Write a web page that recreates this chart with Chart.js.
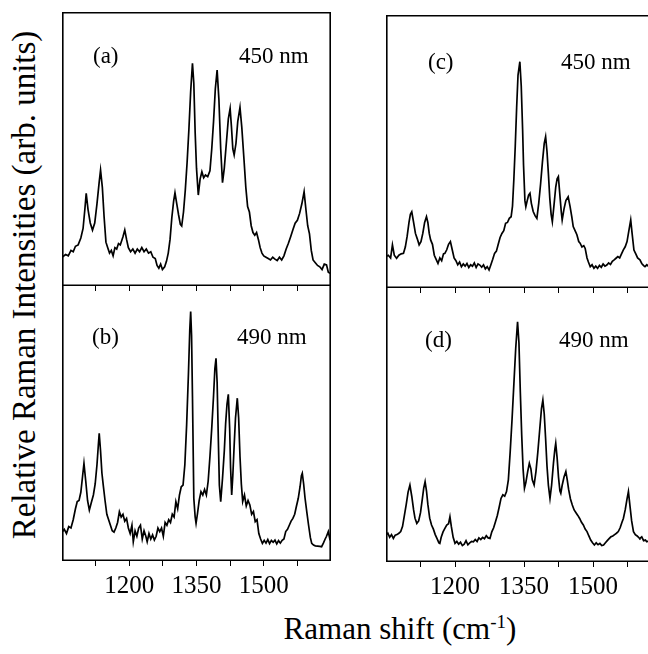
<!DOCTYPE html>
<html>
<head>
<meta charset="utf-8">
<script src="https://cdn.jsdelivr.net/npm/chart.js@4.4.1/dist/chart.umd.min.js"></script>
<style>
  body { margin:0; width:648px; height:654px; overflow:hidden; background:#fff; position:relative;
         font-family:"Liberation Serif","Times New Roman",serif; color:#000; }
  canvas { position:absolute; }
  #ytitle { position:absolute; left:24px; top:285px; transform:translate(-50%,-50%) rotate(-90deg);
            white-space:nowrap; font-size:33px; }
  #xtitle { position:absolute; left:400px; top:629px; transform:translate(-50%,-50%);
            white-space:nowrap; font-size:31px; }
  #xtitle sup { font-size:19px; }
</style>
</head>
<body>
<canvas id="pa" width="269" height="280" style="left:62px;top:12px"></canvas>
<canvas id="pb" width="269" height="315" style="left:62px;top:286px"></canvas>
<canvas id="pc" width="276" height="279" style="left:386px;top:15px"></canvas>
<canvas id="pd" width="276" height="314" style="left:386px;top:288px"></canvas>
<div id="ytitle">Relative Raman Intensities (arb. units)</div>
<div id="xtitle">Raman shift (cm<sup>-1</sup>)</div>
<script>
const xTickLabels = [1200, 1350, 1500];

// (a) 450 nm, left column
const shiftA = [1050,1058,1064,1070,1075,1080,1086,1092,1097,1101,1104,1108,1113,1118,1123,1128,1133,1136,1140,1144,1148,1152,1156,1160,1164,1168,1172,1176,1180,1186,1190,1194,1198,1203,1208,1213,1218,1223,1228,1233,1238,1243,1248,1253,1258,1262,1266,1270,1274,1279,1283,1287,1291,1295,1299,1302,1306,1310,1314,1317,1321,1325,1329,1333,1337,1341,1344,1347,1350,1354,1358,1362,1366,1370,1375,1380,1384,1388,1392,1396,1400,1404,1408,1412,1417,1421,1425,1428,1431,1434,1438,1442,1447,1451,1456,1460,1464,1468,1472,1476,1480,1484,1488,1492,1496,1500,1505,1510,1515,1520,1525,1530,1535,1540,1545,1550,1555,1560,1565,1570,1575,1580,1585,1590,1594,1598,1602,1606,1610,1615,1620,1625,1630,1635,1640,1644,1648];
const intensityA = [10.5,11.5,11,13,12.5,14.5,15,17.5,21,28,33.8,28,23,20.4,23,30,38,42.3,36,25,16,14,12,13,11,14,13.5,15.5,15,18,20.4,17,14,12.5,13.5,12,13.5,12.5,14,12.5,13.5,12,12.5,10.5,10,7.5,6.5,8,6,7,9,12,17,25,31,34,30,26,22.5,21.9,27,35,45,57,71,81.3,74,56,43,33.2,39,41.7,39.5,40.5,39.9,42,50,60,72,78.8,68,50,37.7,43,53,61,64.8,58,50,47.8,52,60,65.2,58,46,36,29,27,22,19.5,18.5,19.5,17,14,12,11,10.5,10,9.5,10.5,9.8,9.3,10.5,9.5,11,13.5,15.6,18,20.5,22.9,24,26.5,30,34.4,28,22,19,13,9.5,8.5,7.5,7,6,8,7.7,5,4.6];

// (b) 490 nm, left column
const shiftB = [1050,1055,1060,1065,1070,1075,1080,1084,1088,1092,1096,1099,1103,1107,1111,1115,1120,1124,1128,1131,1133,1136,1139,1142,1146,1150,1154,1158,1162,1166,1170,1174,1178,1182,1186,1190,1194,1198,1202,1206,1209,1213,1217,1221,1225,1229,1233,1237,1240,1244,1248,1252,1256,1260,1264,1268,1272,1276,1280,1284,1288,1292,1296,1300,1304,1308,1312,1316,1320,1324,1328,1332,1335,1337,1339,1341,1344,1347,1349,1352,1356,1360,1364,1368,1372,1376,1380,1384,1388,1391,1393.5,1396,1399,1401,1404,1408,1412,1415,1418,1421,1424,1426,1428.5,1431,1434,1437,1441,1444,1447,1450,1453,1457,1461,1465,1469,1473,1477,1481,1485,1489,1493,1497,1501,1505,1509,1513,1517,1521,1525,1529,1533,1537,1541,1545,1549,1553,1557,1561,1565,1569,1573,1577,1581,1584,1586,1589,1592,1596,1600,1604,1607,1611,1615,1620,1625,1629,1633,1637,1640,1644,1648];
const intensityB = [10.5,11.5,10,12.5,12,15,19,21.6,22,25,31,35.5,29,22,18.5,21,24,28,35,42,46.4,40,32,27.6,22,17,15,13,11,10.5,12,14,17.9,16,17,14.5,15.5,12,10,13,7,11,9,12,13,8,11,9,7,10,8,9.5,7.6,9,12,10.7,12,9,14,13,15,14,17,16,21.6,19,24,27,27.6,35,49.5,68,84,90.7,82,60,22.8,16,13.7,17,22,25.2,24,26,24,29,38,48.3,60,70,73.7,65,42,27.6,21.6,30,40,50,57,60.6,48,34,24,31,42,52,59.2,52,38,28,21.6,24,20,22,20.4,17,18,14.3,15,10,8,6.4,7.5,6.5,7.8,6.3,7.5,6.8,7.6,6.2,7.4,6.5,7.5,8,10.7,11.5,13,14.5,15.5,17,20,22.8,27,31,31.9,28,23,17.9,13,8.5,6.4,5.8,5.5,5.4,5.3,5.2,6.5,8,9,10.7,7.5];

// (c) 450 nm, right column
const shiftC = [1050,1055,1060,1064,1068,1073,1078,1083,1088,1092,1096,1100,1103,1106,1110,1114,1118,1122,1126,1130,1134,1138,1141,1144,1147,1151,1155,1159,1163,1167,1171,1175,1178,1182,1186,1190,1194,1198,1202,1206,1210,1214,1218,1222,1226,1230,1234,1238,1242,1246,1250,1254,1258,1262,1266,1270,1274,1278,1282,1286,1290,1294,1298,1302,1306,1310,1314,1318,1322,1325,1328,1331,1334,1337,1341,1344,1347,1349,1352,1354,1357,1360,1363,1366,1370,1374,1378,1382,1386,1390,1394,1397,1400,1403,1406,1409,1411.6,1415,1419,1422,1424.7,1428,1431,1433,1437,1441,1446,1450,1454,1457,1461,1465,1469,1472,1476,1480,1483,1487,1490,1494,1498,1502,1506,1510,1514,1518,1522,1526,1530,1534,1538,1542,1546,1550,1554,1558,1562,1566,1570,1574,1578,1582,1585,1589,1593,1597,1602,1606,1610,1613,1617,1620,1625,1630,1635,1640,1645,1650];
const intensityC = [11.5,12,11,15.8,12,10.9,12,12.5,12.7,15,19,24,27,27.9,24,20,18,15.8,17,20,24,26.1,24,20,17.6,16,12,10.5,9,11,10,12.5,12.7,14,16,17,14,11,10,8.5,9.5,7.8,8.8,8,9,7.5,8.5,8,9.2,7.5,8.8,8.4,7.6,8.5,7,7.8,6.6,8.5,10.5,12.7,13.5,16,18.5,20,21,23.7,24,25.5,26.1,30,40,52,66,78,82.9,74,58,45,32,29.8,32,34,34.7,31,28,26.5,25.5,31,38,46,53,55.4,50,42,33,27,24.3,30,37,40,40.8,34,28,24.9,29,32,33.4,30,26,22.5,21,19.5,17,16.4,15,15.5,14.5,11,9.5,7.8,8.5,7.2,8,7.2,8.3,7.6,8.8,8,8.4,9.2,8.6,9.8,10.3,10.9,11.5,11,12.5,14,15.1,17,21,24.9,20,13.9,12.5,11,10.3,9,8.2,7.8,8.5,8,7.5,8,7.2,7.8,7.5,7.3];

// (d) 490 nm, right column
const shiftD = [1050,1054,1058,1062,1066,1070,1074,1078,1082,1086,1090,1094,1098,1102,1106,1110,1113,1117,1121,1125,1129,1132,1135,1138,1141,1145,1149,1153,1157,1161,1165,1167,1170,1174,1178,1182,1186,1189,1192,1196,1200,1204,1208,1212,1216,1220,1224,1228,1232,1236,1240,1244,1248,1252,1256,1260,1264,1268,1272,1276,1280,1284,1288,1292,1296,1300,1304,1308,1312,1316,1320,1324,1328,1332,1336,1339,1342,1345,1348,1351,1354,1358,1361.6,1365,1368,1372,1376,1380,1384,1388,1391,1394,1397,1400,1403,1406.5,1410,1414,1417,1419,1422,1425,1428,1430,1433,1437,1441,1444,1447,1451,1455,1459,1463,1467,1471,1475,1479,1483,1487,1491,1495,1499,1503,1507,1511,1515,1519,1523,1527,1531,1535,1539,1543,1547,1551,1555,1559,1563,1566,1570,1574,1577,1580,1584,1588,1592,1596,1600,1602,1606,1610,1614,1617,1622,1627,1632,1637,1642,1647];
const intensityD = [9.9,10.5,9,10,8.6,9.8,10,10.5,11.1,13,17,21,25.5,28.1,24,19,16,14.1,15,18,23,27,29.3,26,21,16,13.5,12,10,8.5,7,6.8,9,11,12.3,13.5,14,16.5,13,9,6.8,7.5,6.5,7.2,6,6.5,7.8,6.3,7,7.5,7.4,8.2,7.5,8.8,8.2,9,8.5,9.6,8.8,8.6,11,12.5,14.7,17,20,23.2,24.5,24,25.7,30,40.3,52,65,78,87.7,80,62,46.4,34,26.9,29,33,36,34,30,28.1,33,40,48,56,59.1,54,45,35,28,23.2,28,36,41,43.3,38,31,26,25.1,28,31,33,30,26.5,23,20.8,19,18,17,15.9,14.5,13.5,12,11.1,9.5,8,7,6.2,7,6.3,6.8,6,6.2,7,7.8,8.5,9.2,9.5,10,10.5,11.1,12.5,14.5,15.9,19,23,25.7,21,15,11.1,10,9.5,8.8,8.6,9.2,7.8,8,7.4,7.8,7.2,7.5,7,7.4,7];

const SERIF = '"Liberation Serif","Times New Roman",serif';

// frame box (top edge only on the upper panels) + panel letter + wavelength
const panelDecor = {
  id: "panelDecor",
  afterDraw(chart, args, opts) {
    const { ctx, chartArea: a } = chart;
    const w = 1.6, h = w / 2;
    ctx.save();
    ctx.strokeStyle = "#000";
    ctx.lineWidth = w;
    ctx.beginPath();
    if (opts.topEdge) {
      ctx.moveTo(a.left + h, a.bottom - h);
      ctx.lineTo(a.left + h, a.top + h);
      ctx.lineTo(a.right - h, a.top + h);
      ctx.lineTo(a.right - h, a.bottom - h);
    } else {
      ctx.moveTo(a.left + h, a.top);
      ctx.lineTo(a.left + h, a.bottom - h);
      ctx.moveTo(a.right - h, a.top);
      ctx.lineTo(a.right - h, a.bottom - h);
    }
    ctx.moveTo(a.left, a.bottom - h);
    ctx.lineTo(a.right, a.bottom - h);
    ctx.stroke();
    ctx.fillStyle = "#000";
    ctx.font = `23px ${SERIF}`;
    ctx.textBaseline = "middle";
    ctx.textAlign = "left";
    ctx.fillText(opts.tag, a.left + opts.tagDx, a.top + opts.textDy);
    ctx.fillText(opts.laser, a.left + opts.laserDx, a.top + opts.textDy);
    ctx.restore();
  }
};

function spectrum(canvasId, shifts, values, { tag, laser, showLabels, tagDx, laserDx, textDy }) {
  return new Chart(document.getElementById(canvasId), {
    type: "line",
    data: {
      datasets: [{
        data: shifts.map((s, i) => ({ x: s, y: values[i] })),
        borderColor: "#000",
        borderWidth: 1.7,
        pointRadius: 0,
        tension: 0,
        fill: false
      }]
    },
    plugins: [panelDecor],
    options: {
      responsive: false,
      animation: false,
      devicePixelRatio: 1,
      layout: { padding: 0 },
      plugins: {
        legend: { display: false },
        tooltip: { enabled: false },
        panelDecor: { tag, laser, tagDx, laserDx, textDy, topEdge: !showLabels }
      },
      scales: {
        x: {
          type: "linear",
          min: 1050,
          max: 1650,
          border: { display: false },
          grid: { drawOnChartArea: false, drawTicks: true, tickLength: 5, color: "#000", lineWidth: 1 },
          ticks: {
            stepSize: 75,
            autoSkip: false,
            maxRotation: 0,
            padding: 5,
            color: "#000",
            font: { family: SERIF, size: 25 },
            callback: (v) => (showLabels && xTickLabels.includes(v)) ? String(v) : ""
          },
          afterBuildTicks: (s) => { s.ticks = s.ticks.filter(t => t.value > 1050 && t.value < 1650); },
          afterFit: (s) => { s.height = showLabels ? 40 : 6; }
        },
        y: { display: false, min: 0, max: 100 }
      }
    }
  });
}

spectrum("pa", shiftA, intensityA, { tag: "(a)", laser: "450 nm", showLabels: false, tagDx: 31, laserDx: 177, textDy: 45 });
spectrum("pb", shiftB, intensityB, { tag: "(b)", laser: "490 nm", showLabels: true, tagDx: 30, laserDx: 175, textDy: 52 });
spectrum("pc", shiftC, intensityC, { tag: "(c)", laser: "450 nm", showLabels: false, tagDx: 42, laserDx: 175, textDy: 48 });
spectrum("pd", shiftD, intensityD, { tag: "(d)", laser: "490 nm", showLabels: true, tagDx: 39, laserDx: 173, textDy: 53 });
</script>
</body>
</html>
